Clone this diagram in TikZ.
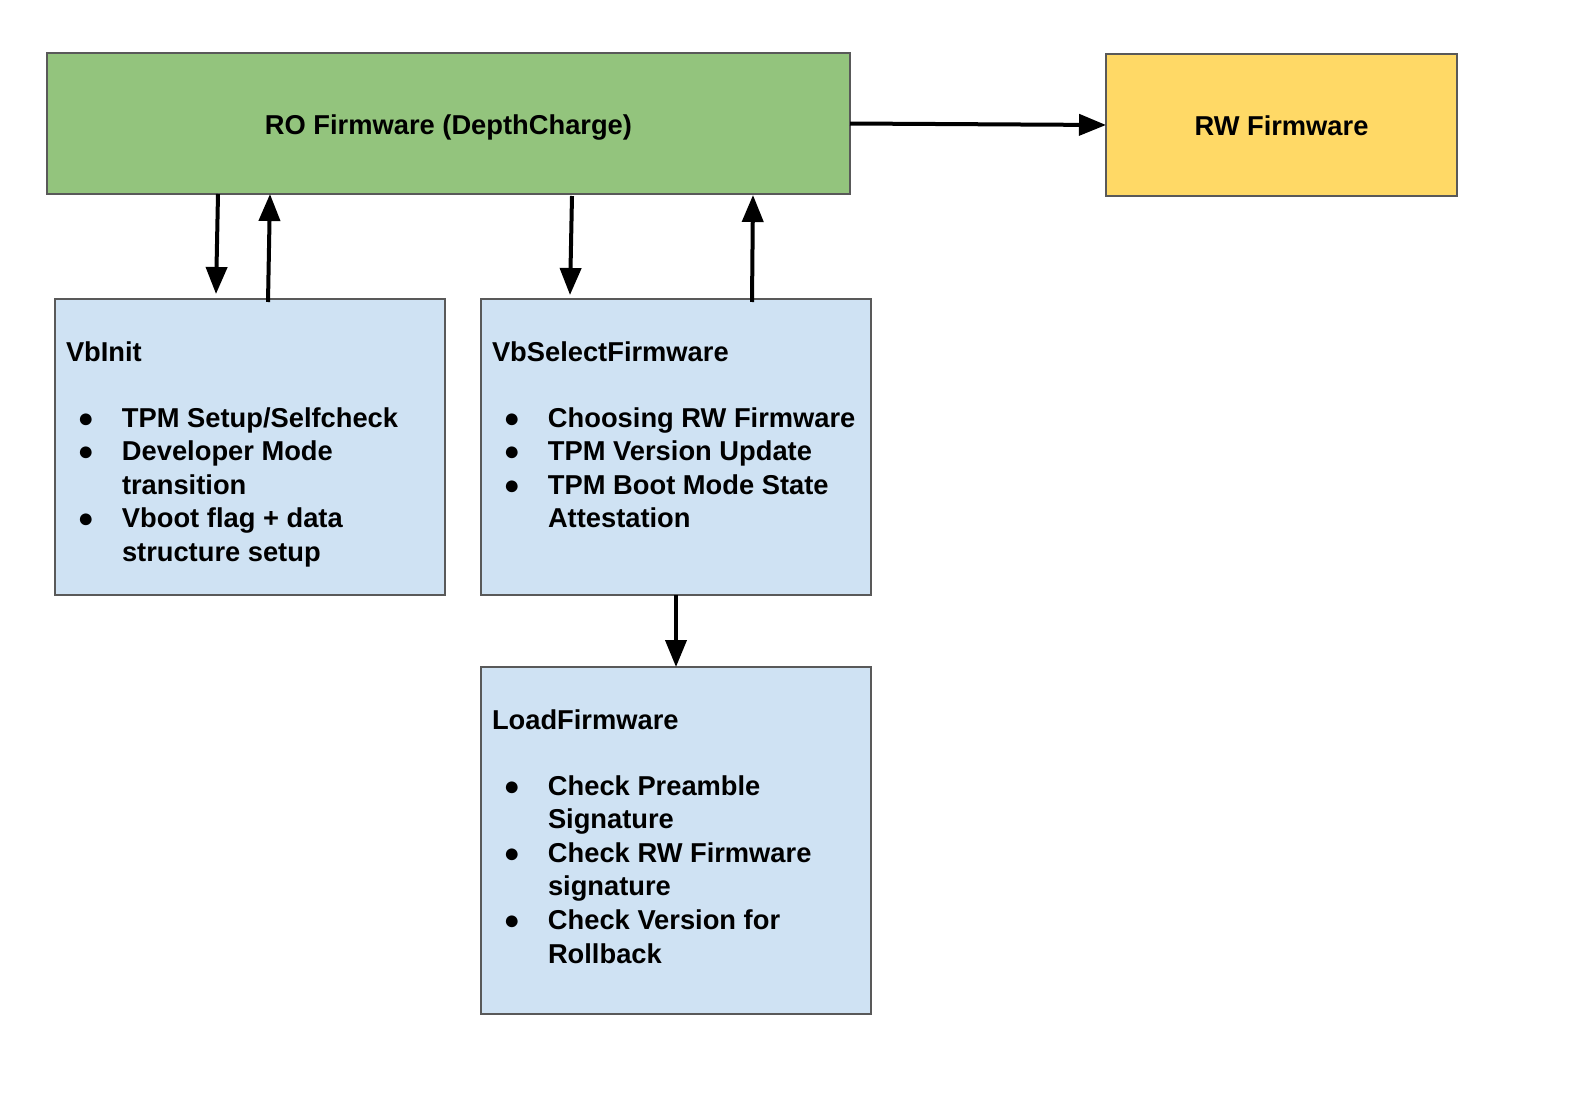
\documentclass[tikz,border=0pt]{standalone}
\usepackage{fontspec}
\setmainfont{Liberation Sans}
\usetikzlibrary{arrows.meta}
\definecolor{rogreen}{HTML}{93C47D}
\definecolor{rwyellow}{HTML}{FFD966}
\definecolor{vbblue}{HTML}{CFE2F3}
\definecolor{edgegray}{HTML}{595959}
\newcommand{\bul}{\makebox[0pt][r]{●\hspace{28pt}}}
\newcommand{\lst}[1]{\vtop{\hsize=380pt\parindent=0pt\raggedright #1}}
\begin{document}
\begin{tikzpicture}[x=1pt,y=-1pt,
  box/.style={draw=edgegray, line width=1.2pt, anchor=north west, inner sep=0pt, outer sep=0pt},
  txt/.style={font=\fontsize{27.3}{33.6}\selectfont\bfseries, inner sep=0pt, outer sep=0pt},
  title/.style={txt, anchor=base west},
  list/.style={txt, anchor=base west},
  arr/.style={line width=4pt, -{Triangle[length=27pt,width=21pt]}}]
\fill[white] (0,0) rectangle (1596,1108);
\useasboundingbox (0,0) rectangle (1596,1108);

\node[box, fill=rogreen, minimum width=803pt, minimum height=141pt] (ro) at (47,53) {};
\node[txt, anchor=base] (rotxt) at ([yshift=-81pt]ro.north) {RO Firmware (DepthCharge)};

\node[box, fill=rwyellow, minimum width=351pt, minimum height=142pt] (rw) at (1106,54) {};
\node[txt, anchor=base] (rwtxt) at ([yshift=-81pt]rw.north) {RW Firmware};

\node[box, fill=vbblue, minimum width=390pt, minimum height=296pt] (vbinit) at (55,299) {};
\node[title] (vbinitt) at ([xshift=11pt,yshift=-62pt]vbinit.north west) {VbInit};
\node[list] (vbinitl) at ([xshift=67pt,yshift=-128pt]vbinit.north west)
  {\lst{\bul TPM Setup/Selfcheck\par \bul Developer Mode\par transition\par \bul Vboot flag + data\par structure setup}};

\node[box, fill=vbblue, minimum width=390pt, minimum height=296pt] (vbsel) at (481,299) {};
\node[title] (vbselt) at ([xshift=11pt,yshift=-62pt]vbsel.north west) {VbSelectFirmware};
\node[list] (vbsell) at ([xshift=67pt,yshift=-128pt]vbsel.north west)
  {\lst{\bul Choosing RW Firmware\par \bul TPM Version Update\par \bul TPM Boot Mode State\par Attestation}};

\node[box, fill=vbblue, minimum width=390pt, minimum height=347pt] (load) at (481,667) {};
\node[title] (loadt) at ([xshift=11pt,yshift=-62pt]load.north west) {LoadFirmware};
\node[list] (loadl) at ([xshift=67pt,yshift=-128pt]load.north west)
  {\lst{\bul Check Preamble\par Signature\par \bul Check RW Firmware\par signature\par \bul Check Version for\par Rollback}};

\draw[arr] ([xshift=171pt]ro.south west) -- ([xshift=161pt,yshift=5pt]vbinit.north west);
\draw[arr] ([xshift=213pt,yshift=-3pt]vbinit.north west) -- ([xshift=223pt]ro.south west);
\draw[arr] ([xshift=525pt,yshift=-2pt]ro.south west) -- ([xshift=89pt,yshift=4pt]vbsel.north west);
\draw[arr] ([xshift=271pt,yshift=-3pt]vbsel.north west) -- ([xshift=706pt,yshift=-1pt]ro.south west);
\draw[arr] (vbsel.south) -- (load.north);
\draw[arr] (ro.east) -- (rw.west);
\end{tikzpicture}
\end{document}
